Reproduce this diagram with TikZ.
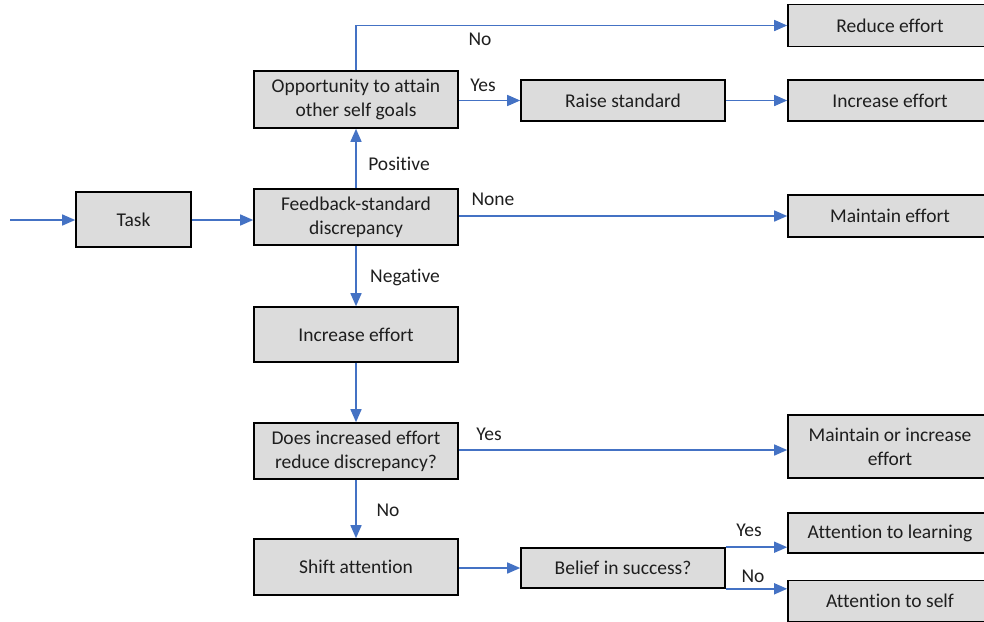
\documentclass[tikz,border=0pt]{standalone}
\usepackage{fontspec}
\setmainfont{Carlito}[Ligatures=NoCommon]
\usetikzlibrary{arrows.meta}
\definecolor{boxgray}{HTML}{DCDCDC}
\definecolor{flowblue}{HTML}{4472C4}
\definecolor{inkgray}{HTML}{1E1E1E}
\tikzset{
  box/.style={draw=black, fill=boxgray, line width=1.6pt, align=center,
    inner sep=0pt, text=inkgray, font=\fontsize{19.5}{24}\selectfont},
  flow/.style={draw=flowblue, line width=1.5pt,
    -{Triangle[length=13pt,width=11pt]}},
  tag/.style={text=inkgray, font=\fontsize{19.5}{22}\selectfont, inner sep=0pt}
}
\begin{document}
\begin{tikzpicture}[x=1pt,y=-1pt]
\useasboundingbox (0,0) rectangle (984,621);

% main column
\node[box, minimum width=115pt, minimum height=55pt] (task) at (133.5,219.5) {Task};
\node[box, minimum width=204pt, minimum height=56pt] (fb) at (356,217) {Feedback-standard\\discrepancy};
\node[box, minimum width=204pt, minimum height=57pt] (opp) at (356,99.5) {Opportunity to attain\\other self goals};
\node[box, minimum width=204pt, minimum height=55pt] (incmid) at (356,334.5) {Increase effort};
\node[box, minimum width=204pt, minimum height=56pt] (does) at (356,451) {Does increased effort\\reduce discrepancy?};
\node[box, minimum width=204pt, minimum height=56pt] (shift) at (356,567) {Shift attention};

% middle column
\node[box, minimum width=204pt, minimum height=41pt] (raise) at (623,100.5) {Raise standard};
\node[box, minimum width=204pt, minimum height=40pt] (belief) at (623,568) {Belief in success?};

% outcomes (their right side runs past the page edge)
\node[box, minimum width=204pt, minimum height=42pt] (reduce) at (890,25.5) {Reduce effort};
\node[box, minimum width=204pt, minimum height=41pt] (inctop) at (890,100.5) {Increase effort};
\node[box, minimum width=204pt, minimum height=42pt] (maintain) at (890,216) {Maintain effort};
\node[box, minimum width=204pt, minimum height=63pt] (maint2) at (890,446.5) {Maintain or increase\\effort};
\node[box, minimum width=204pt, minimum height=40pt] (learn) at (890,533) {Attention to learning};
\node[box, minimum width=204pt, minimum height=41pt] (self) at (890,601) {Attention to self};

% connectors
\coordinate (in) at (10,220);
\draw[flow] (in) -- (in -| task.west);
\draw[flow] (task.east |- in) -- (in -| fb.west);
\draw[flow] (fb.north) -- (opp.south);
\draw[flow] (opp.north) |- (reduce.west);
\draw[flow] (opp.east |- raise) -- (raise.west);
\draw[flow] (raise.east) -- (inctop.west);
\draw[flow] (fb.east |- maintain) -- (maintain.west);
\draw[flow] (fb.south) -- (incmid.north);
\draw[flow] (incmid.south) -- (does.north);
\draw[flow] (does.east |- 0,450) -- (maint2.west |- 0,450);
\draw[flow] (does.south) -- (shift.north);
\draw[flow] (shift.east |- belief) -- (belief.west);
\draw[flow] (belief.north east) -- (belief.north east -| learn.west);
\draw[flow] (belief.south east) -- (belief.south east -| self.west);

% branch labels
\node[tag] (lpos) at (399,164) {Positive};
\node[tag] (lno1) at (480,39) {No};
\node[tag] (lyes1) at (483,85) {Yes};
\node[tag] (lnone) at (493,199) {None};
\node[tag] (lneg) at (405,277) {Negative};
\node[tag] (lyes2) at (489,434) {Yes};
\node[tag] (lno2) at (388,510) {No};
\node[tag] (lyes3) at (749,530) {Yes};
\node[tag] (lno3) at (753,576) {No};
\end{tikzpicture}
\end{document}
